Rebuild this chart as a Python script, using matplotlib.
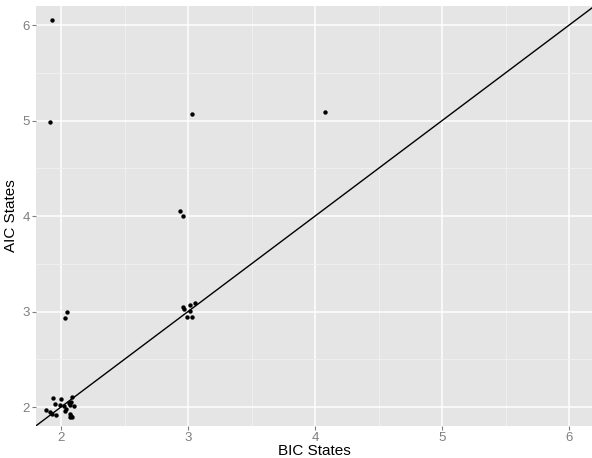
import matplotlib.pyplot as plt

plt.rcParams['font.family'] = ['Liberation Sans', 'DejaVu Sans']

# jittered state counts (BIC vs AIC)
bic = [1.93, 1.91, 3.03, 4.08, 2.94, 2.96, 2.05, 2.03,
       2.958, 2.969, 3.016, 3.055, 3.016, 2.99, 3.03,
       1.94, 2.00, 1.95, 1.99, 2.02, 2.06, 2.08, 2.07, 2.10, 2.04,
       1.91, 1.93, 1.96, 2.03, 2.07, 2.08, 2.07, 2.09, 2.09, 1.88]
aic = [6.05, 4.98, 5.07, 5.09, 4.05, 4.00, 3.00, 2.93,
       3.044, 3.026, 3.068, 3.089, 3.008, 2.946, 2.946,
       2.09, 2.08, 2.03, 2.02, 2.01, 2.04, 2.05, 2.02, 2.01, 1.98,
       1.95, 1.93, 1.92, 1.96, 1.93, 1.91, 1.90, 1.90, 2.10, 1.97]

major = [2, 3, 4, 5, 6]
minor = [2.5, 3.5, 4.5, 5.5]

fig = plt.figure(figsize=(5.92, 4.58), dpi=100)
ax = fig.add_axes([36 / 592, 32 / 458, 556 / 592, 420 / 458])
ax.set_facecolor('#E5E5E5')

ax.set_xticks(major)
ax.set_yticks(major)
ax.set_xticks(minor, minor=True)
ax.set_yticks(minor, minor=True)
ax.grid(which='major', color='white', lw=1.1)
ax.grid(which='minor', color='#F2F2F2', lw=0.6)
ax.set_axisbelow(True)
ax.tick_params(which='major', colors='#7F7F7F', labelsize=9.5, length=3, width=0.8, pad=1.5)
ax.tick_params(which='minor', length=0)
for s in ax.spines.values():
    s.set_visible(False)

ax.scatter(bic, aic, s=10, color='black', zorder=3, linewidths=0)
ax.axline((0, 0), slope=1, color='black', lw=1, zorder=2)

ax.set_xlim(1.803, 6.18)
ax.set_ylim(1.801, 6.2)
ax.set_xlabel('BIC States', fontsize=11, labelpad=-0.5)
ax.set_ylabel('AIC States', fontsize=11, labelpad=3)

fig.savefig('out.png', dpi=100)
